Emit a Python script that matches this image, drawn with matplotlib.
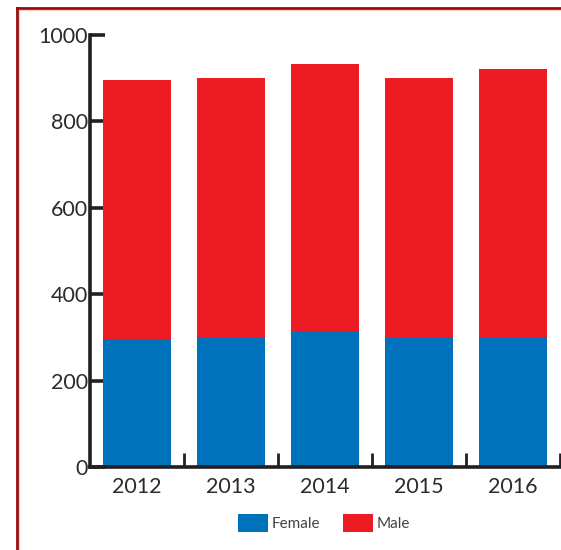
import matplotlib
matplotlib.use("Agg")
import matplotlib.pyplot as plt
from matplotlib.lines import Line2D
from matplotlib.patches import Patch
import numpy as np

years = ["2012", "2013", "2014", "2015", "2016"]
female = [297, 300, 314, 300, 300]
male = [599, 600, 619, 600, 621]
y_ticks = [0, 200, 400, 600, 800, 1000]

BLUE = "#0071bb"
RED = "#ed1c24"
INK = "#231f20"

plt.rcParams["font.family"] = ["Lato", "DejaVu Sans"]

W, H = 561, 550
fig = plt.figure(figsize=(W / 100, H / 100), dpi=100)

# dark red frame along the left and top of the panel
fx, fy = 16.5 / W, 1 - 7.5 / H
fig.add_artist(Line2D([fx, fx], [-0.1, fy], transform=fig.transFigure,
                      color="#9b0a0a", linewidth=2.0, solid_capstyle="projecting"))
fig.add_artist(Line2D([fx, 1.1], [fy, fy], transform=fig.transFigure,
                      color="#9b0a0a", linewidth=2.0, solid_capstyle="projecting"))
ix, iy = 18.8 / W, 1 - 9.8 / H
fig.add_artist(Line2D([ix, ix], [-0.1, iy], transform=fig.transFigure,
                      color="#f2cdd0", linewidth=0.8))
fig.add_artist(Line2D([ix, 1.1], [iy, iy], transform=fig.transFigure,
                      color="#f2cdd0", linewidth=0.8))

ax = fig.add_axes([90 / W, (H - 467.3) / H, 471 / W, 432.3 / H])
x = np.arange(len(years))
ax.bar(x, female, width=0.72, color=BLUE, label="Female", zorder=2)
ax.bar(x, male, width=0.72, bottom=female, color=RED, label="Male", zorder=2)

ax.set_xlim(-0.5, len(years) - 0.5 + 0.01)
ax.set_ylim(0, 1000)

for side in ("top", "right"):
    ax.spines[side].set_visible(False)
for side in ("left", "bottom"):
    ax.spines[side].set_color(INK)
    ax.spines[side].set_linewidth(2.6)
    ax.spines[side].set_zorder(3)

ax.set_yticks(y_ticks)
ax.set_yticklabels([str(v) for v in y_ticks])
ax.tick_params(axis="y", direction="in", length=11, width=2.6, color=INK,
               labelsize=15.5, labelcolor="#2b2b2b", pad=1.5)

ax.set_xticks(x)
ax.set_xticklabels(years)
ax.tick_params(axis="x", which="major", length=0, labelsize=15.5,
               labelcolor="#2b2b2b", pad=7)
ax.set_xticks(x + 0.5, minor=True)
ax.tick_params(axis="x", which="minor", direction="in", length=10,
               width=2, color=INK)
for t in ax.xaxis.get_minorticklines():
    t.set_clip_on(False)

handles = [Patch(facecolor=BLUE, label="Female"), Patch(facecolor=RED, label="Male")]
fig.legend(handles=handles, loc="center", bbox_to_anchor=(324 / W, 1 - 523 / H),
           ncol=2, frameon=False, fontsize=11, handlelength=1.95,
           handleheight=1.35, handletextpad=0.25, columnspacing=1.5,
           labelcolor="#444444")

fig.savefig("out.png", dpi=100)
